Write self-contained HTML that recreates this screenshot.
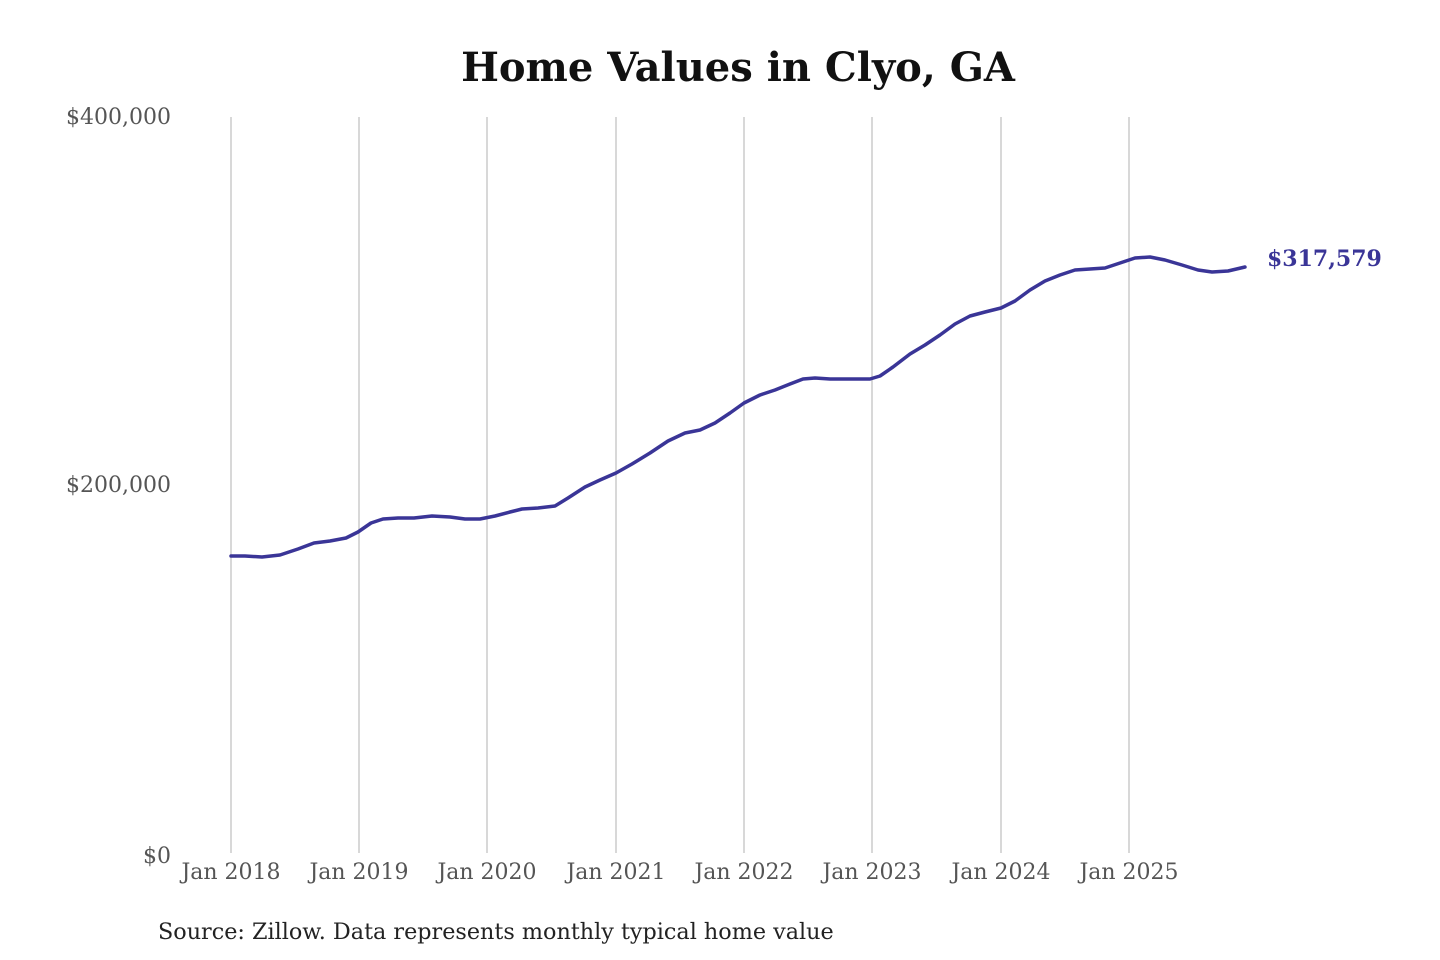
<!DOCTYPE html>
<html><head><meta charset="utf-8"><style>
html,body{margin:0;padding:0;background:#fff;width:1440px;height:960px;overflow:hidden}
svg text{font-family:"DejaVu Serif","Liberation Serif",serif}
</style></head><body>
<svg width="1440" height="960" viewBox="0 0 1440 960" xmlns="http://www.w3.org/2000/svg">
<text x="738" y="81" text-anchor="middle" font-size="40" font-weight="bold" fill="#111">Home Values in Clyo, GA</text>
<g stroke="#c4c4c4" stroke-width="1.3">
<line x1="231" y1="117" x2="231" y2="853"/><line x1="359" y1="117" x2="359" y2="853"/>
<line x1="487" y1="117" x2="487" y2="853"/><line x1="616" y1="117" x2="616" y2="853"/>
<line x1="744" y1="117" x2="744" y2="853"/><line x1="872" y1="117" x2="872" y2="853"/>
<line x1="1001" y1="117" x2="1001" y2="853"/><line x1="1129" y1="117" x2="1129" y2="853"/>
</g>
<g font-size="22" fill="#555" text-anchor="end">
<text x="171" y="124">$400,000</text><text x="171" y="492">$200,000</text><text x="171" y="863">$0</text>
</g>
<g font-size="22" fill="#555" text-anchor="middle">
<text x="231" y="879">Jan 2018</text><text x="359" y="879">Jan 2019</text><text x="487" y="879">Jan 2020</text>
<text x="616" y="879">Jan 2021</text><text x="744" y="879">Jan 2022</text><text x="872" y="879">Jan 2023</text>
<text x="1001" y="879">Jan 2024</text><text x="1129" y="879">Jan 2025</text>
</g>
<path fill="none" stroke="#3a3597" stroke-width="3.5" stroke-linejoin="round" stroke-linecap="round"
d="M231,556 L245,556 L262,557 L280,555 L298,549 L314,543 L330,541 L346,538 L358,532 L371,523 L383,519 L398,518 L414,518 L432,516 L450,517 L465,519 L480,519 L495,516 L510,512 L522,509 L538,508 L555,506 L568,498 L585,487 L600,480 L616,473 L632,464 L650,453 L668,441 L685,433 L700,430 L715,423 L730,413 L744,403 L760,395 L775,390 L790,384 L803,379 L815,378 L830,379 L850,379 L870,379 L880,376 L893,367 L910,354 L925,345 L940,335 L955,324 L970,316 L985,312 L1001,308 L1015,301 L1030,290 L1045,281 L1060,275 L1075,270 L1090,269 L1105,268 L1120,263 L1135,258 L1150,257 L1165,260 L1182,265 L1198,270 L1212,272 L1228,271 L1245,267"/>
<text x="1267" y="266" font-size="22" font-weight="bold" fill="#3a3597">$317,579</text>
<text x="158" y="939" font-size="22.3" fill="#222">Source: Zillow. Data represents monthly typical home value</text>
</svg>
</body></html>
